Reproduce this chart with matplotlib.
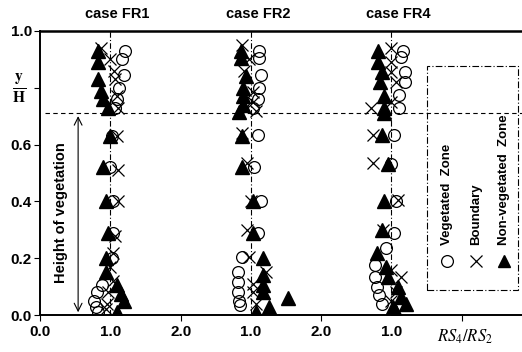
import numpy as np
import matplotlib
matplotlib.use('Agg')
import matplotlib.pyplot as plt

plt.rcParams['font.family'] = ['Liberation Sans', 'DejaVu Sans']

# RS4/RS2 ratios, one block per case
fr1_veg_y = [0.93, 0.90, 0.845, 0.80, 0.76, 0.73, 0.63, 0.52, 0.40, 0.29, 0.20, 0.105, 0.08, 0.05, 0.03, 0.01]
fr1_veg_x = [1.21, 1.17, 1.19, 1.12, 1.10, 1.07, 1.02, 1.00, 1.04, 1.03, 1.02, 0.88, 0.81, 0.76, 0.79, 0.83]
fr1_bnd_y = [0.94, 0.90, 0.86, 0.83, 0.77, 0.73, 0.63, 0.51, 0.40, 0.28, 0.22, 0.17, 0.12, 0.08, 0.04, 0.02]
fr1_bnd_x = [0.86, 1.00, 1.05, 1.07, 1.10, 1.11, 1.10, 1.11, 1.11, 1.07, 1.04, 1.00, 1.03, 0.97, 0.95, 0.93]
fr1_non_y = [0.93, 0.89, 0.83, 0.79, 0.76, 0.73, 0.63, 0.52, 0.40, 0.29, 0.20, 0.15, 0.105, 0.075, 0.05, 0.01]
fr1_non_x = [0.83, 0.83, 0.83, 0.86, 0.90, 0.96, 1.00, 0.90, 0.94, 0.96, 0.93, 0.93, 1.10, 1.15, 1.19, 1.10]

fr2_veg_y = [0.93, 0.905, 0.845, 0.80, 0.76, 0.73, 0.635, 0.52, 0.40, 0.29, 0.205, 0.15, 0.115, 0.08, 0.05, 0.035]
fr2_veg_x = [1.11, 1.11, 1.14, 1.11, 1.10, 1.03, 1.10, 1.04, 1.14, 1.10, 0.88, 0.81, 0.81, 0.81, 0.83, 0.84]
fr2_bnd_y = [0.95, 0.90, 0.86, 0.785, 0.75, 0.72, 0.64, 0.535, 0.40, 0.30, 0.205, 0.15, 0.11, 0.08, 0.04]
fr2_bnd_x = [0.88, 0.97, 0.90, 1.03, 1.03, 1.07, 0.88, 0.95, 1.00, 0.95, 0.97, 1.21, 1.03, 1.03, 1.07]
fr2_non_y = [0.93, 0.905, 0.84, 0.80, 0.77, 0.74, 0.715, 0.63, 0.52, 0.40, 0.29, 0.20, 0.14, 0.105, 0.08, 0.06, 0.03, 0.01]
fr2_non_x = [0.86, 0.86, 0.93, 0.89, 0.89, 0.89, 0.83, 0.88, 0.88, 1.03, 1.03, 1.17, 1.17, 1.17, 1.17, 1.53, 1.26, 1.07]

fr4_veg_y = [0.93, 0.91, 0.855, 0.82, 0.775, 0.73, 0.635, 0.53, 0.40, 0.29, 0.235, 0.175, 0.135, 0.10, 0.07, 0.04]
fr4_veg_x = [1.17, 1.14, 1.19, 1.19, 1.11, 1.11, 1.04, 1.00, 1.07, 1.04, 0.93, 0.76, 0.76, 0.79, 0.83, 0.86]
fr4_bnd_y = [0.94, 0.89, 0.855, 0.82, 0.75, 0.73, 0.635, 0.535, 0.405, 0.30, 0.16, 0.135, 0.08, 0.05]
fr4_bnd_x = [1.00, 1.00, 1.00, 1.07, 1.00, 0.71, 0.74, 0.74, 1.10, 0.88, 1.00, 1.14, 1.07, 1.00]
fr4_non_y = [0.93, 0.89, 0.855, 0.82, 0.77, 0.73, 0.71, 0.635, 0.53, 0.40, 0.30, 0.22, 0.17, 0.135, 0.10, 0.065, 0.04, 0.03, 0.01]
fr4_non_x = [0.81, 0.81, 0.86, 0.84, 0.89, 0.89, 0.89, 0.86, 0.95, 0.90, 0.86, 0.79, 0.93, 0.95, 1.10, 1.14, 1.21, 1.03, 1.07]

case_names = ['case FR1', 'case FR2', 'case FR4']
case_offset = [0.0, 2.0, 4.0]
veg_height = 0.71

cases = [
    (fr1_veg_x, fr1_veg_y, fr1_bnd_x, fr1_bnd_y, fr1_non_x, fr1_non_y),
    (fr2_veg_x, fr2_veg_y, fr2_bnd_x, fr2_bnd_y, fr2_non_x, fr2_non_y),
    (fr4_veg_x, fr4_veg_y, fr4_bnd_x, fr4_bnd_y, fr4_non_x, fr4_non_y),
]

fig = plt.figure(figsize=(5.22, 3.52), dpi=100)
ax = fig.add_axes([0.077, 0.105, 0.923, 0.807])

for name, off, (vx, vy, bx, by, nx, ny) in zip(case_names, case_offset, cases):
    ax.plot([off + 1.0, off + 1.0], [0, 1], color='k', lw=0.8, ls=(0, (5, 2, 1, 2)))
    ax.plot(np.array(nx) + off, ny, '^', color='k', ms=9.5, ls='none')
    ax.plot(np.array(bx) + off, by, 'x', color='k', ms=8.5, mew=0.9, ls='none')
    ax.plot(np.array(vx) + off, vy, 'o', mfc='none', mec='k', ms=8.5, mew=0.9, ls='none')
    ax.text(off + 1.1, 1.035, name, ha='center', va='bottom', fontsize=10.5, fontweight='bold')

ax.axhline(veg_height, xmin=0.01, color='k', lw=0.8, ls=(0, (4, 3)))

# height of vegetation arrow
ax.annotate('', xy=(0.54, 0.0), xytext=(0.54, veg_height),
            arrowprops=dict(arrowstyle='<->', lw=0.8, color='k', mutation_scale=14))
ax.text(0.29, 0.36, 'Height of vegetation', rotation=90, ha='center', va='center',
        fontsize=10.5, fontweight='bold')

# legend drawn by hand
ax.add_patch(plt.Rectangle((5.51, 0.088), 1.30, 0.79, fill=False, ec='k', lw=0.8,
                           ls=(0, (6, 2, 1, 2)), zorder=3))
leg_x = [5.79, 6.21, 6.60]
leg_txt = ['Vegetated  Zone', 'Boundary', 'Non-vegetated  Zone']
ax.plot(leg_x[0], 0.19, 'o', mfc='none', mec='k', ms=8.5, mew=0.9)
ax.plot(leg_x[1], 0.19, 'x', color='k', ms=8.5, mew=0.9)
ax.plot(leg_x[2], 0.19, '^', color='k', ms=9)
for lx, t in zip(leg_x, leg_txt):
    ax.text(lx, 0.245, t, rotation=90, ha='center', va='bottom', fontsize=9.5, fontweight='bold')

ax.set_xlim(0, 6.86)
ax.set_ylim(0, 1.0)
ax.set_xticks([0, 2, 4, 6])
ax.set_xticklabels(['0.0', '2.0', '2.0', ''])
ax.set_xticks([1, 3, 5], minor=True)
ax.set_xticklabels(['1.0', '1.0', '1.0'], minor=True)
ax.tick_params(axis='x', which='minor', length=0, pad=7)
ax.tick_params(axis='x', which='major', length=4, pad=3)
ax.set_yticks([0, 0.2, 0.4, 0.6, 0.8, 1.0])
ax.set_yticklabels(['0.0', '0.2', '0.4', '0.6', '', '1.0'])
ax.tick_params(axis='y', length=4, pad=2)
for lab in ax.get_xticklabels(which='both') + ax.get_yticklabels():
    lab.set_fontsize(11)
    lab.set_fontweight('bold')

ax.text(-0.3, 0.8, r'$\frac{\mathbf{y}}{\mathbf{H}}$', ha='center', va='center', fontsize=16,
        math_fontfamily='stix')
ax.text(6.05, -0.045, r'$RS_4/RS_2$', ha='center', va='top', fontsize=12, math_fontfamily='stix')

ax.spines['right'].set_visible(False)
ax.spines['top'].set_linewidth(1.8)
ax.spines['left'].set_linewidth(1.4)
ax.spines['bottom'].set_linewidth(1.4)

plt.savefig('out.png', dpi=100)
